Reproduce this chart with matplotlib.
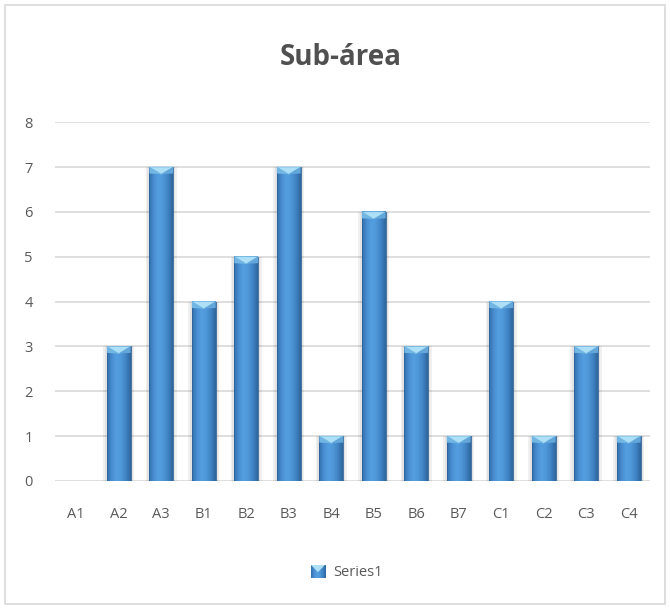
import numpy as np
import matplotlib.pyplot as plt
from matplotlib.patches import Polygon, Rectangle
from matplotlib.colors import LinearSegmentedColormap

categories = ["A1", "A2", "A3", "B1", "B2", "B3", "B4", "B5", "B6", "B7", "C1", "C2", "C3", "C4"]
values = [0, 3, 7, 4, 5, 7, 1, 6, 3, 1, 4, 1, 3, 1]
series_name = "Series1"

text_color = "#595959"
plt.rcParams["font.family"] = ["Open Sans", "DejaVu Sans"]

fig = plt.figure(figsize=(6.7, 6.08), dpi=100)
ax = fig.add_axes([0.0821, 0.209, 0.888, 0.59])

# outer chart border
fig.patches.append(Rectangle((0.008, 0.006), 0.985, 0.986, transform=fig.transFigure,
                             fill=False, edgecolor="#d9d9d9", linewidth=1.2))

# horizontal cylinder shading for each bar
shade = LinearSegmentedColormap.from_list(
    "bar", ["#3070ad", "#4a8fd2", "#549fe0", "#4f97d8", "#3f83c4", "#2e659c"])
grad = np.linspace(0, 1, 64).reshape(1, -1)

width = 0.56
x = np.arange(len(categories))
for xi, v in zip(x, values):
    if v <= 0:
        continue
    left = xi - width / 2
    # soft shadow behind the bar
    ax.bar(xi, v, width=width + 0.18, color="#000000", alpha=0.06, zorder=2, linewidth=0)
    ax.bar(xi, v, width=width + 0.09, color="#000000", alpha=0.05, zorder=2, linewidth=0)
    ax.imshow(grad, cmap=shade, aspect="auto", extent=(left, left + width, 0, v),
              zorder=3, interpolation="bicubic")
    ax.add_patch(Rectangle((left, 0), width, v, fill=False, edgecolor="#2f6399",
                           linewidth=0.6, zorder=4))
    cap = 0.16
    ax.add_patch(Polygon([(left, v), (left + width, v), (xi, v - cap)], closed=True,
                         facecolor="#addff6", edgecolor="#80c4ea", linewidth=0.5, zorder=5))
    ax.add_patch(Polygon([(left, v), (xi, v - cap), (left, v - cap * 0.9)], closed=True,
                         facecolor="#72b6e4", edgecolor="none", zorder=5))
    ax.add_patch(Polygon([(left + width, v), (xi, v - cap), (left + width, v - cap * 0.9)],
                         closed=True, facecolor="#62a6da", edgecolor="none", zorder=5))

ax.set_xlim(-0.5, len(categories) - 0.5)
ax.set_ylim(0, 8)
ax.set_yticks(range(0, 9))
ax.set_xticks(x)
ax.set_xticklabels(categories)
ax.yaxis.grid(True, color="#d9d9d9", linewidth=1.2)
ax.set_axisbelow(True)
for s in ax.spines.values():
    s.set_visible(False)
ax.tick_params(length=0, colors=text_color, labelsize=10.5)
ax.tick_params(axis="y", pad=16)
ax.tick_params(axis="x", pad=19)

fig.text(0.508, 0.906, "Sub-área", ha="center", va="center", fontsize=20,
         fontweight="bold", color="#505050")

# legend
lax = fig.add_axes([0.464, 0.049, 0.021, 0.022])
lax.imshow(grad, cmap=shade, aspect="auto", extent=(0, 1, 0, 1))
lax.add_patch(Polygon([(0, 1), (1, 1), (0.5, 0.45)], closed=True, facecolor="#addff6",
                      edgecolor="none"))
lax.set_xlim(0, 1)
lax.set_ylim(0, 1)
lax.axis("off")
fig.text(0.497, 0.059, series_name, ha="left", va="center", fontsize=10.5, color=text_color)

fig.savefig("out.png", dpi=100)
